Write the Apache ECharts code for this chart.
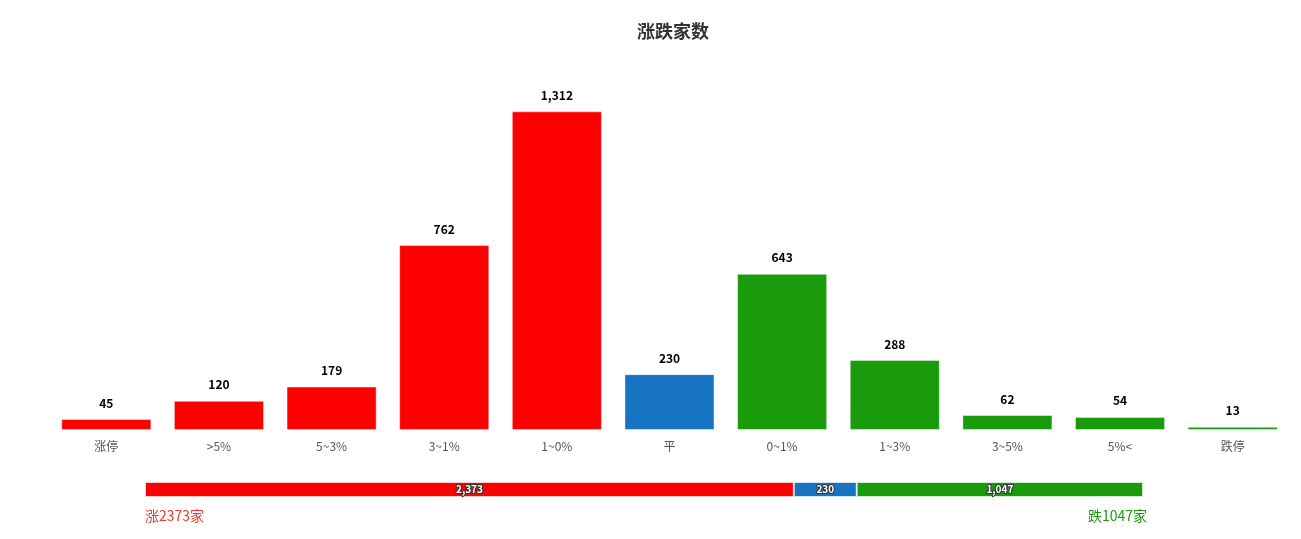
<!DOCTYPE html>
<html>
<head>
<meta charset="utf-8">
<script src="https://cdn.jsdelivr.net/npm/echarts@6/dist/echarts.min.js"></script>
<style>
html,body{margin:0;padding:0;background:#fff;}
#c{width:1301px;height:539px;}
</style>
</head>
<body>
<div id="c"></div>
<script>
const categories = ['涨停', '>5%', '5~3%', '3~1%', '1~0%', '平', '0~1%', '1~3%', '3~5%', '5%<', '跌停'];
const counts = [45, 120, 179, 762, 1312, 230, 643, 288, 62, 54, 13];
const summaryNames = ['涨', '平', '跌'];
const summaryValues = [2373, 230, 1047];

const RED = '#ff0000', BLUE = '#1674c2', GREEN = '#1a9b0c';
function colorFor(i) { return i < 5 ? RED : (i === 5 ? BLUE : GREEN); }
const total = summaryValues.reduce((a, b) => a + b, 0);
const font = '"Microsoft YaHei", "Noto Sans CJK SC", sans-serif';

const chart = echarts.init(document.getElementById('c'));
chart.setOption({
  animation: false,
  textStyle: { fontFamily: font },
  title: [
    { text: '涨跌家数', left: 632, top: 17, textStyle: { fontSize: 18, fontWeight: 'bold', color: '#333', fontFamily: font } },
    { text: summaryNames[0] + summaryValues[0] + '家', left: 140, top: 504, textStyle: { fontSize: 14, fontWeight: 'normal', color: '#ee3a30', fontFamily: font } },
    { text: summaryNames[2] + summaryValues[2] + '家', right: 149, top: 504, textStyle: { fontSize: 14, fontWeight: 'normal', color: '#1a9b0c', fontFamily: font } }
  ],
  grid: [
    { left: 50, right: 12, top: 90, bottom: 109 },
    { left: 145, width: 998, top: 482, height: 15 }
  ],
  xAxis: [
    { gridIndex: 0, type: 'category', data: categories,
      axisLine: { show: false }, axisTick: { show: false },
      axisLabel: { color: '#555', fontSize: 12, margin: 10, interval: 0 } },
    { gridIndex: 1, type: 'value', min: 0, max: total, show: false }
  ],
  yAxis: [
    { gridIndex: 0, type: 'value', min: 0, max: 1400, show: false },
    { gridIndex: 1, type: 'category', data: [''], show: false }
  ],
  series: [
    {
      type: 'bar', xAxisIndex: 0, yAxisIndex: 0, barWidth: '80%',
      data: counts.map((v, i) => ({ value: v, itemStyle: { color: colorFor(i) } })),
      itemStyle: { borderColor: 'rgba(255,255,255,0.45)', borderWidth: 1 },
      label: { show: true, position: 'top', distance: 10, color: '#000', fontWeight: 'bold', fontSize: 12,
        textBorderColor: '#fff', textBorderWidth: 1,
        formatter: p => p.value.toLocaleString('en-US') }
    }
  ].concat(summaryValues.map((v, i) => ({
    type: 'bar', xAxisIndex: 1, yAxisIndex: 1, stack: 'sum', barWidth: 15, name: summaryNames[i],
    data: [v],
    itemStyle: { color: [RED, BLUE, GREEN][i], borderColor: 'rgba(255,255,255,0.6)', borderWidth: 1 },
    label: { show: true, position: 'inside', color: '#fff', fontWeight: 'bold', fontSize: 10,
      textBorderColor: '#333', textBorderWidth: 2,
      formatter: p => p.value.toLocaleString('en-US') }
  })))
});
</script>
</body>
</html>
